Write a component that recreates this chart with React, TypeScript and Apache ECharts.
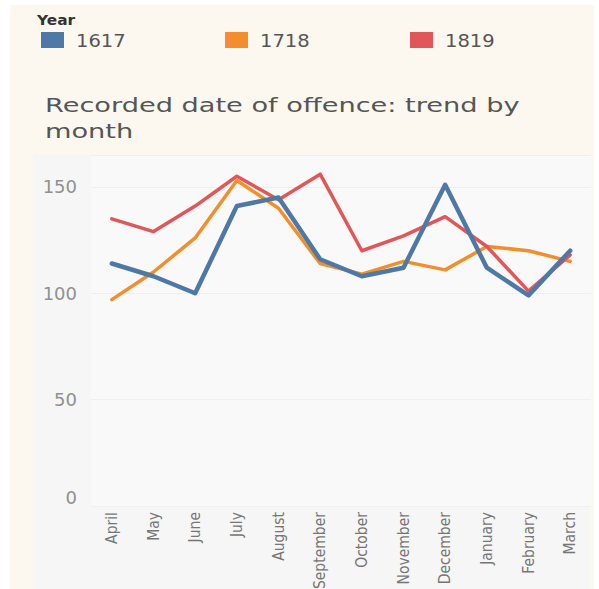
import React, { useEffect, useRef } from "react";
import * as echarts from "echarts";

const months = ["April", "May", "June", "July", "August", "September", "October", "November", "December", "January", "February", "March"];
const yearNames = ["1617", "1718", "1819"];
const values1617 = [114, 108, 100, 141, 145, 116, 108, 112, 151, 112, 99, 120];
const values1718 = [97, 110, 126, 153, 140, 114, 109, 115, 111, 122, 120, 115];
const values1819 = [135, 129, 141, 155, 144, 156, 120, 127, 136, 122, 101, 118];
const colors = ["#4e79a7", "#f28e2b", "#e15759"];
const titleText = "Recorded date of offence: trend by\nmonth";
const legendTitle = "Year";

export default function App() {
  const ref = useRef<HTMLDivElement>(null);
  useEffect(() => {
    if (!ref.current) return;
    const chart = echarts.init(ref.current, null, { renderer: "svg" });
    const seriesValues = [values1617, values1718, values1819];
    const widths = [4.5, 3.5, 3.5];
    const zs = [5, 3, 4];
    const legendX = [41, 225, 410];
    const legendEls: any[] = [];
    yearNames.forEach((n, i) => {
      legendEls.push({
        type: "rect",
        shape: { x: legendX[i], y: 32, width: 23, height: 16 },
        style: { fill: colors[i] },
        silent: true,
      });
      legendEls.push({
        type: "text",
        x: legendX[i] + 35,
        y: 41,
        scaleX: 1.15,
        style: {
          text: n,
          fontSize: 17,
          fontFamily: "DejaVu Sans",
          fill: "#555555",
          verticalAlign: "middle",
          textVerticalAlign: "middle",
        },
        silent: true,
      });
    });
    chart.setOption({
      animation: false,
      backgroundColor: "#ffffff",
      graphic: [
        { type: "rect", z: -100, shape: { x: 10, y: 5, width: 584, height: 584 }, style: { fill: "#fcf8f0" }, silent: true },
        { type: "rect", z: -99, shape: { x: 33, y: 155, width: 557, height: 434 }, style: { fill: "#f6f6f6" }, silent: true },
        {
          type: "text",
          x: 37,
          y: 20,
          scaleX: 1.1,
          style: {
            text: legendTitle,
            fontSize: 14,
            fontWeight: "bold",
            fontFamily: "DejaVu Sans",
            fill: "#333333",
            verticalAlign: "middle",
            textVerticalAlign: "middle",
          },
          silent: true,
        },
        ...legendEls,
        {
          type: "text",
          x: 45,
          y: 92,
          scaleX: 1.36,
          style: {
            text: titleText,
            fontSize: 20,
            fontFamily: "DejaVu Sans",
            fill: "#555555",
            lineHeight: 26,
            verticalAlign: "top",
            textVerticalAlign: "top",
          },
          silent: true,
        },
      ],
      grid: {
        left: 91,
        right: 8,
        top: 155,
        bottom: 83,
        show: true,
        backgroundColor: "#f9f9f9",
        borderWidth: 0,
        containLabel: false,
        outerBoundsMode: "none",
      },
      xAxis: {
        type: "category",
        data: months,
        boundaryGap: true,
        axisLine: { show: false },
        axisTick: { show: false },
        axisLabel: {
          rotate: 90,
          margin: 6,
          interval: 0,
          color: "#767676",
          fontSize: 15.5,
          fontFamily: "'DejaVu Sans Condensed', sans-serif",
        },
      },
      yAxis: {
        type: "value",
        min: 0,
        max: 165,
        interval: 50,
        axisLine: { show: false },
        axisTick: { show: false },
        splitLine: { lineStyle: { color: "#efefef", width: 1 } },
        axisLabel: {
          margin: 14,
          color: "#909090",
          fontSize: 18,
          fontFamily: "DejaVu Sans",
          formatter: (v: number) => (v === 0 ? "{z|0}" : v % 50 === 0 ? String(v) : ""),
          rich: {
            z: { padding: [0, 0, 18, 0], fontSize: 18, fontFamily: "DejaVu Sans", color: "#909090" },
          },
        },
      },
      series: yearNames.map((n, i) => ({
        name: n,
        type: "line",
        data: seriesValues[i],
        showSymbol: false,
        symbol: "none",
        z: zs[i],
        lineStyle: { color: colors[i], width: widths[i], join: "round", cap: "round" },
        itemStyle: { color: colors[i] },
      })),
    });
    return () => chart.dispose();
  }, []);
  return <div ref={ref} style={{ position: "absolute", left: 0, top: 0, width: 599, height: 589 }} />;
}
